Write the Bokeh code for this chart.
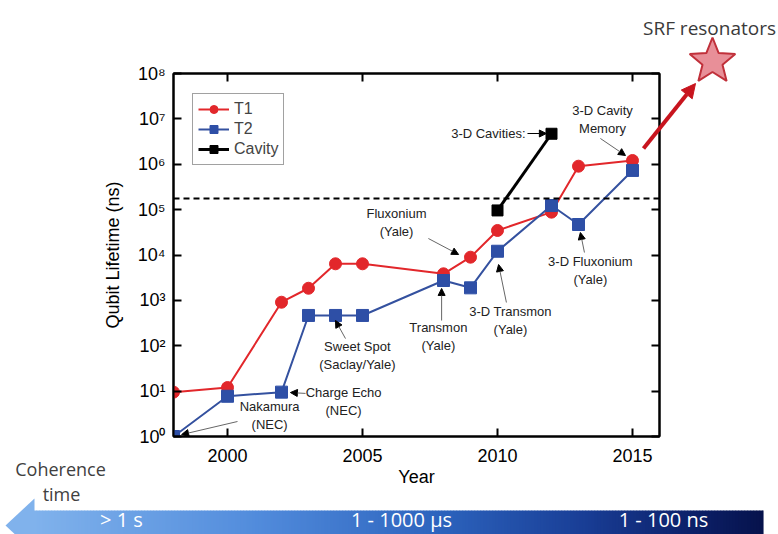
import math
from bokeh.plotting import figure
from bokeh.layouts import column
from bokeh.core.properties import value
from bokeh.models import (FixedTicker, CustomJSTickFormatter, LinearAxis, LogAxis, Legend,
                          LegendItem, Label, Arrow, NormalHead, Span, Range1d)
from bokeh.embed import file_html
from bokeh.resources import INLINE

# ---------------- data ----------------
years_t1 = [1998, 2000, 2002, 2003, 2004, 2005, 2008, 2009, 2010, 2012, 2013, 2015]
t1_ns = [9.5, 12, 910, 1850, 6400, 6400, 3850, 8950, 34700, 88000, 906000, 1210000]
years_t2 = [1998, 2000, 2002, 2003, 2004, 2005, 2008, 2009, 2010, 2012, 2013, 2015]
t2_ns = [1, 7.7, 9.5, 465, 465, 465, 2740, 1890, 12100, 123000, 47000, 730000]
years_cav = [2010, 2012]
cavity_ns = [96000, 4700000]
threshold_ns = 175000
x_ticks = [2000, 2005, 2010, 2015]
y_ticks = [1e0, 1e1, 1e2, 1e3, 1e4, 1e5, 1e6, 1e7, 1e8]

# annotations: (text, text_x, text_y, arrow_start_x, arrow_start_y, arrow_end_x, arrow_end_y)
notes = [
    ("Nakamura\n(NEC)", 2001.56, 2.9, 2000.37, 2.14, 1998.3, 1.1),
    ("Charge Echo\n(NEC)", 2004.30, 5.9, 2002.89, 8.9, 2002.33, 9.3),
    ("Sweet Spot\n(Saclay/Yale)", 2004.81, 61, 2004.37, 144, 2004.0, 360),
    ("Transmon\n(Yale)", 2007.81, 160, 2007.93, 360, 2007.93, 1830),
    ("3-D Transmon\n(Yale)", 2010.48, 360, 2010.33, 898, 2010.04, 6170),
    ("3-D Fluxonium\n(Yale)", 2013.44, 4550, 2013.22, 11350, 2013.07, 31300),
    ("Fluxonium\n(Yale)", 2006.26, 52000, 2007.44, 23100, 2008.56, 10260),
    ("3-D Cavity\nMemory", 2013.89, 9.7e6, 2013.81, 3.7e6, 2014.74, 1.56e6),
]

# slide texts
scale_labels = ["> 1 s", "1 - 1000 \u00b5s", "1 - 100 ns"]
side_labels = ["Coherence", "time"]
srf_label = "SRF resonators"

W, H = 778, 534
FONT = "Liberation Sans"
SLIDE_FONT = "Open Sans"
RED = "#e2272b"
BLUE = "#34519f"

p = figure(width=W, height=H, x_range=Range1d(1998, 2016), y_range=Range1d(1, 1e8),
           y_axis_type="log", output_backend="svg", toolbar_location=None,
           min_border_left=173, min_border_right=119, min_border_top=73, min_border_bottom=98)
p.grid.visible = False
p.outline_line_color = "black"
p.outline_line_width = 2
p.background_fill_color = "white"
p.border_fill_color = "white"

sup_code = r"""
const sup = ["\u2070","\u00b9","\u00b2","\u00b3","\u2074","\u2075","\u2076","\u2077","\u2078","\u2079"];
const e = Math.round(Math.log10(tick));
return "10" + String(e).split("").map(c => sup[parseInt(c)]).join("");
"""

def style_axis(ax):
    ax.axis_line_width = 2
    ax.axis_line_color = "black"
    ax.major_tick_in = 8
    ax.major_tick_out = 0
    ax.major_tick_line_width = 2
    ax.minor_tick_line_color = None
    ax.major_label_text_font = FONT
    ax.major_label_text_color = "black"
    ax.axis_label_text_font = FONT
    ax.axis_label_text_font_style = "normal"
    ax.axis_label_text_color = "black"

xa = p.xaxis[0]
xa.ticker = FixedTicker(ticks=x_ticks)
style_axis(xa)
xa.major_label_text_font_size = "18px"
xa.major_label_standoff = 12
xa.axis_label = "Year"
xa.axis_label_text_font_size = "18px"
xa.axis_label_standoff = 2

ya = p.yaxis[0]
ya.ticker = FixedTicker(ticks=y_ticks)
ya.formatter = CustomJSTickFormatter(code=sup_code)
style_axis(ya)
ya.major_label_text_font_size = "18px"
ya.major_label_standoff = 8
ya.axis_label = "Qubit Lifetime (ns)"
ya.axis_label_text_font_size = "18px"
ya.axis_label_standoff = 12

top = LinearAxis(ticker=FixedTicker(ticks=x_ticks))
style_axis(top)
top.major_label_text_color = None
p.add_layout(top, "above")
right = LogAxis(ticker=FixedTicker(ticks=y_ticks))
style_axis(right)
right.major_label_text_color = None
p.add_layout(right, "right")

# threshold line
p.add_layout(Span(location=threshold_ns, dimension="width", line_color="black",
                  line_width=2, line_dash="6 4"))

# series
l1 = p.line(years_t1, t1_ns, line_color=RED, line_width=2)
l2 = p.line(years_t2, t2_ns, line_color=BLUE, line_width=2)
l3 = p.line(years_cav, cavity_ns, line_color="black", line_width=3)
s1 = p.scatter(years_t1, t1_ns, marker="circle", size=12, fill_color=RED, line_color=RED)
s2 = p.scatter(years_t2, t2_ns, marker="square", size=12, fill_color="#2e4fa6", line_color="#2e4fa6")
s3 = p.scatter(years_cav, cavity_ns, marker="square", size=11, fill_color="black", line_color="black")

legend = Legend(items=[LegendItem(label="T1", renderers=[l1, s1]),
                       LegendItem(label="T2", renderers=[l2, s2]),
                       LegendItem(label="Cavity", renderers=[l3, s3])],
                location=(19, 271), margin=0, padding=5, spacing=0,
                label_height=20, glyph_height=20, glyph_width=31, label_standoff=5,
                label_text_font=FONT, label_text_font_size="16px",
                border_line_color="#444444", border_line_width=1,
                background_fill_alpha=1)
p.add_layout(legend, "center")

for txt, tx, ty, ax0, ay0, ax1, ay1 in notes:
    p.add_layout(Label(x=tx, y=ty, text=txt, text_align="center", text_baseline="middle",
                       text_font=FONT, text_font_size="13px", text_color="#222222"))
    p.add_layout(Arrow(x_start=ax0, y_start=ay0, x_end=ax1, y_end=ay1,
                       line_color="#666666", line_width=1,
                       end=NormalHead(size=7, fill_color="black", line_color="black")))

p.add_layout(Label(x=2011.04, y=4.76e6, text="3-D Cavities:", text_align="right",
                   text_baseline="middle", text_font=FONT, text_font_size="13px",
                   text_color="#222222"))
p.add_layout(Arrow(x_start=2011.11, y_start=4.76e6, x_end=2011.81, y_end=4.76e6,
                   line_color="black", line_width=1,
                   end=NormalHead(size=7, fill_color="black", line_color="black")))

# ---------------- slide overlay (pixel coordinates of the page) ----------------
q = figure(width=W, height=H, x_range=Range1d(0, W), y_range=Range1d(H, 0),
           output_backend="svg", toolbar_location=None, min_border=0,
           x_axis_location=None, y_axis_location=None)
q.grid.visible = False
q.outline_line_color = None
q.background_fill_alpha = 0
q.border_fill_alpha = 0
q.margin = (-H, 0, 0, 0)
for fig in (p, q):
    if "frame_align" in fig.properties():
        fig.frame_align = False

# gradient bar
stops = [(0.0, (128, 178, 236)), (0.3, (82, 140, 220)), (0.55, (45, 100, 190)),
         (0.75, (25, 62, 150)), (0.9, (12, 32, 105)), (1.0, (6, 18, 75))]

def grad(t):
    for (t0, c0), (t1c, c1) in zip(stops[:-1], stops[1:]):
        if t <= t1c:
            f = (t - t0) / (t1c - t0)
            return "#%02x%02x%02x" % tuple(int(round(a + (b - a) * f)) for a, b in zip(c0, c1))
    return "#%02x%02x%02x" % stops[-1][1]

bx0, bx1, by0, by1, step = 33, 763, 510, 540, 3
lefts = list(range(bx0, bx1, step))
rights = [min(v + step + 0.6, bx1) for v in lefts]
cols = [grad((v - bx0) / (bx1 - bx0)) for v in lefts]
q.quad(left=lefts, right=rights, top=[by0] * len(lefts), bottom=[by1] * len(lefts),
       fill_color=cols, line_color=None)
q.patch([bx0 + 1, 5, bx0 + 1], [498, 525, 552], fill_color=grad(0.0), line_color=None)

q.text(x=[121, 401, 663], y=[519] * 3, text=scale_labels, text_color="white",
       text_font=value(SLIDE_FONT), text_font_size="20px", text_align="center",
       text_baseline="middle")
q.text(x=[60, 61], y=[468, 493], text=side_labels, text_color="#404040",
       text_font=value(SLIDE_FONT), text_font_size="18px", text_align="center",
       text_baseline="middle")
q.text(x=[709], y=[27], text=[srf_label], text_color="#3a3a3a",
       text_font=value(SLIDE_FONT), text_font_size="19px", text_align="center",
       text_baseline="middle")

cx, cy, R, r = 712, 61, 24, 10.5
star_x, star_y = [], []
for k in range(10):
    ang = -math.pi / 2 + k * math.pi / 5
    rad = R if k % 2 == 0 else r
    star_x.append(cx + rad * math.cos(ang))
    star_y.append(cy + rad * math.sin(ang))
q.patch(star_x, star_y, fill_color="#e88f98", line_color="#c0303a", line_width=2)

q.add_layout(Arrow(x_start=643, y_start=148, x_end=695, y_end=83, line_color="#c8141e",
                   line_width=4, end=NormalHead(size=14, fill_color="#c8141e",
                                                line_color="#c8141e")))

layout = column(p, q, spacing=0)
open("out.html", "w", encoding="utf-8").write(file_html(layout, INLINE))
